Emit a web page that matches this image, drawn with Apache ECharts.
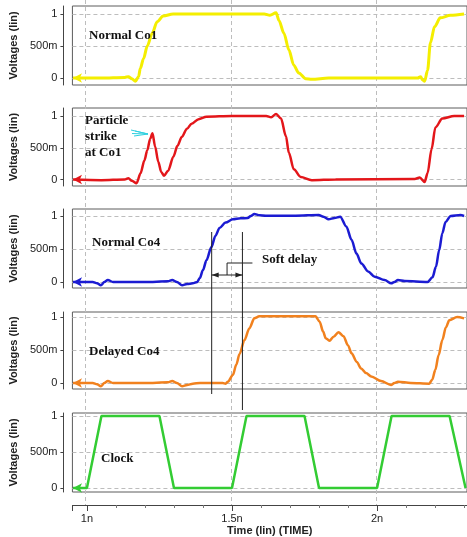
<!DOCTYPE html>
<html>
<head>
<meta charset="utf-8">
<script src="https://cdn.jsdelivr.net/npm/echarts@6/dist/echarts.min.js"></script>
<style>
  body { margin: 0; background: #fff; }
  #chart { width: 467px; height: 537px; }
</style>
</head>
<body>
<div id="chart"></div>
<script>
// time in ns, voltage in V
const normalCo1 = [[0.952,0],[1.05,0],[1.13,0.01],[1.143,0.02],[1.155,-0.01],[1.167,-0.05],[1.178,0.02],[1.184,0.15],[1.195,0.3],[1.208,0.5],[1.225,0.7],[1.242,0.88],[1.263,0.97],[1.297,1.0],[1.45,1.0],[1.611,1.0],[1.631,0.98],[1.652,1.02],[1.662,0.9],[1.679,0.7],[1.696,0.44],[1.713,0.2],[1.73,0.08],[1.754,-0.01],[1.775,-0.02],[1.833,0],[2.0,0],[2.14,0],[2.15,0.02],[2.157,-0.03],[2.164,-0.05],[2.174,0.12],[2.184,0.55],[2.198,0.8],[2.218,0.94],[2.253,0.98],[2.30,1.0]];
const strikeCo1 = [[0.952,0],[1.05,-0.01],[1.13,0],[1.143,0.02],[1.155,-0.02],[1.171,-0.06],[1.185,0.1],[1.198,0.3],[1.208,0.46],[1.218,0.64],[1.226,0.73],[1.235,0.52],[1.246,0.28],[1.256,0.12],[1.266,0.06],[1.28,0.14],[1.298,0.36],[1.312,0.53],[1.327,0.67],[1.345,0.8],[1.361,0.88],[1.385,0.95],[1.412,0.99],[1.5,1.0],[1.618,1.0],[1.635,0.98],[1.652,1.03],[1.669,0.96],[1.686,0.68],[1.696,0.42],[1.713,0.16],[1.737,0.04],[1.775,-0.01],[1.857,0],[2.13,0.01],[2.147,0.03],[2.164,-0.04],[2.174,0.1],[2.188,0.48],[2.201,0.82],[2.225,0.96],[2.266,1.0],[2.30,1.0]];
const normalCo4 = [[0.952,0],[1.02,0],[1.035,-0.02],[1.048,-0.05],[1.06,0],[1.072,0.03],[1.09,0],[1.2,0],[1.28,0.01],[1.294,0.03],[1.31,0],[1.328,-0.05],[1.345,-0.03],[1.365,-0.02],[1.38,0],[1.389,0.06],[1.4,0.18],[1.412,0.33],[1.429,0.53],[1.443,0.7],[1.457,0.82],[1.478,0.9],[1.503,0.95],[1.53,0.965],[1.554,0.97],[1.565,1.0],[1.577,1.03],[1.595,1.01],[1.617,1.005],[1.719,1.005],[1.799,1.015],[1.815,0.99],[1.833,0.95],[1.853,0.97],[1.873,0.99],[1.894,0.84],[1.912,0.64],[1.929,0.43],[1.946,0.28],[1.969,0.16],[1.992,0.08],[2.026,0.03],[2.049,-0.02],[2.06,0],[2.072,0.03],[2.095,0.015],[2.174,0],[2.191,0.07],[2.203,0.23],[2.214,0.48],[2.225,0.74],[2.236,0.91],[2.254,1.0],[2.287,1.015],[2.30,1.0]];
const delayedCo4 = [[0.952,0],[1.02,0],[1.035,-0.02],[1.048,-0.05],[1.06,0],[1.072,0.03],[1.09,0],[1.2,0],[1.28,0.01],[1.294,0.03],[1.31,0],[1.328,-0.05],[1.345,-0.03],[1.365,-0.01],[1.39,0],[1.468,0],[1.478,-0.01],[1.486,0.02],[1.503,0.12],[1.515,0.28],[1.526,0.44],[1.543,0.65],[1.56,0.83],[1.577,0.98],[1.594,1.01],[1.652,1.01],[1.788,1.01],[1.802,0.93],[1.814,0.78],[1.823,0.68],[1.836,0.64],[1.85,0.7],[1.867,0.77],[1.884,0.71],[1.9,0.57],[1.912,0.45],[1.93,0.32],[1.945,0.22],[1.962,0.15],[1.98,0.1],[2.014,0.03],[2.048,-0.03],[2.06,0],[2.072,0.02],[2.116,0],[2.18,-0.01],[2.19,0.05],[2.201,0.2],[2.212,0.42],[2.225,0.65],[2.237,0.84],[2.249,0.95],[2.276,1.0],[2.30,0.98]];
const clock = [[0.952,0],[1.0,0],[1.05,1],[1.25,1],[1.3,0],[1.5,0],[1.55,1],[1.75,1],[1.8,0],[2.0,0],[2.05,1],[2.25,1],[2.305,0]];

const panelNames = ['Normal Co1', 'Particle\nstrike\nat Co1', 'Normal Co4', 'Delayed Co4', 'Clock'];
const yTicks = [0, 0.5, 1];
const yTickLabels = ['0', '500m', '1'];
const xLabelTicks = [1, 1.5, 2];
const xEdgeTicks = [0.95, 1, 1.5, 2];
const xMinorTicks = [1.1, 1.2, 1.3, 1.4, 1.6, 1.7, 1.8, 1.9, 2.1, 2.2, 2.3];
const softDelay = [1.43, 1.536];

const XMIN = 0.95, XMAX = 2.31;
const panels = [
  {data: normalCo1, color: '#f4ee00', width: 3, top: 6, height: 79, min: -0.109, max: 1.125, label: [89, 36]},
  {data: strikeCo1, color: '#e3161a', width: 2.5, top: 108, height: 78, min: -0.102, max: 1.126, label: [85, 137]},
  {data: normalCo4, color: '#1b1bd2', width: 2.5, top: 209, height: 79, min: -0.091, max: 1.106, label: [92, 243]},
  {data: delayedCo4, color: '#f1811e', width: 2.5, top: 312, height: 77, min: -0.091, max: 1.076, label: [89, 352]},
  {data: clock, color: '#33cc33', width: 2.5, top: 413, height: 79, min: -0.056, max: 1.042, label: [101, 459]}
];

const axisColor = '#444';
const gridDash = {color: '#bdbdbd', type: [4, 3], width: 1};
const serif = 'bold 13px "Liberation Serif", "Times New Roman", serif';

// background grid only carries the vertical dashed lines
const grid = [{left: 71, right: -3, top: 0, bottom: 32, show: false}];
const xAxis = [{
  gridIndex: 0, type: 'value', min: XMIN, max: XMAX,
  axisLine: {show: false}, axisTick: {show: false, customValues: xLabelTicks},
  axisLabel: {show: false}, splitLine: {show: true, lineStyle: gridDash}
}];
const yAxis = [{gridIndex: 0, type: 'value', show: false}];
const series = [];

panels.forEach(function (p, i) {
  const g = i + 1;
  grid.push({left: 71, right: -3, top: p.top, height: p.height, show: true,
    borderColor: '#5c5c5c', borderWidth: 1});
  xAxis.push({gridIndex: g, type: 'value', min: XMIN, max: XMAX, show: false});
  yAxis.push({
    gridIndex: g, type: 'value', min: p.min, max: p.max, offset: 9,
    name: 'Voltages (lin)', nameLocation: 'middle', nameGap: 42,
    nameTextStyle: {fontWeight: 'bold', fontSize: 11, color: '#222', fontFamily: 'Liberation Sans'},
    axisLine: {show: true, lineStyle: {color: axisColor}},
    axisTick: {show: true, length: 3, customValues: yTicks, lineStyle: {color: axisColor}},
    axisLabel: {customValues: yTicks, margin: 6, fontSize: 11, color: '#222', fontFamily: 'Liberation Sans',
      formatter: function (v) { return yTickLabels[yTicks.indexOf(v)]; }},
    splitLine: {show: true, lineStyle: gridDash}
  });
  const data = p.data.map(function (d, k) {
    if (k === 0) return {value: d, symbol: 'arrow', symbolSize: [7, 9], symbolRotate: 90};
    return d;
  });
  series.push({
    type: 'line', xAxisIndex: g, yAxisIndex: g, data: data,
    symbol: 'none', showSymbol: true,
    smooth: i === 4 ? false : 0.3, smoothMonotone: 'x',
    lineStyle: {color: p.color, width: p.width}, itemStyle: {color: p.color},
    z: 3
  });
});

// time axis under the clock panel
xAxis.push({
  gridIndex: 5, type: 'value', min: XMIN, max: XMAX, position: 'bottom', offset: 13,
  name: 'Time (lin) (TIME)', nameLocation: 'middle', nameGap: 20,
  nameTextStyle: {fontWeight: 'bold', fontSize: 11, color: '#222', fontFamily: 'Liberation Sans'},
  axisLine: {show: true, lineStyle: {color: axisColor}},
  axisTick: {show: true, length: 6, customValues: xEdgeTicks, lineStyle: {color: axisColor}},
  axisLabel: {customValues: xLabelTicks, margin: 8, fontSize: 11, color: '#222', fontFamily: 'Liberation Sans',
    formatter: function (v) { return v + 'n'; }},
  splitLine: {show: false}
});
xAxis.push({
  gridIndex: 5, type: 'value', min: XMIN, max: XMAX, position: 'bottom', offset: 13,
  axisLine: {show: false},
  axisTick: {show: true, length: 3, customValues: xMinorTicks, lineStyle: {color: '#777'}},
  axisLabel: {show: false}, splitLine: {show: false}
});

const chart = echarts.init(document.getElementById('chart'));
chart.setOption({
  animation: false,
  backgroundColor: '#fff',
  grid: grid, xAxis: xAxis, yAxis: yAxis, series: series
});

// annotations
const xs = chart.convertToPixel({xAxisIndex: 3}, softDelay[0]);
const xe = chart.convertToPixel({xAxisIndex: 3}, softDelay[1]);
const xm = (xs + xe) / 2;
const ink = {stroke: '#222', lineWidth: 1};
const graphic = [];
panels.forEach(function (p) {
  graphic.push({type: 'text', x: p.label[0], y: p.label[1], z: 10,
    style: {text: panelNames[panels.indexOf(p)], font: serif, fill: '#111', verticalAlign: 'middle', lineHeight: 16}});
});
graphic.push(
  {type: 'line', z: 10, shape: {x1: xs, y1: 232, x2: xs, y2: 394}, style: ink},
  {type: 'line', z: 10, shape: {x1: xe, y1: 232, x2: xe, y2: 410}, style: ink},
  {type: 'line', z: 10, shape: {x1: xs, y1: 275, x2: xe, y2: 275}, style: ink},
  {type: 'polygon', z: 10, shape: {points: [[xs, 275], [xs + 7, 272.5], [xs + 7, 277.5]]}, style: {fill: '#222'}},
  {type: 'polygon', z: 10, shape: {points: [[xe, 275], [xe - 7, 272.5], [xe - 7, 277.5]]}, style: {fill: '#222'}},
  {type: 'polyline', z: 10, shape: {points: [[xm, 275], [xm, 263], [xe + 10, 263]]}, style: {stroke: '#222', lineWidth: 1, fill: null}},
  {type: 'text', x: 262, y: 260, z: 10, style: {text: 'Soft delay', font: serif, fill: '#111', verticalAlign: 'middle'}},
  {type: 'polyline', z: 10, shape: {points: [[131, 130], [148, 134], [132, 133.5]]}, style: {stroke: '#2fd0e0', lineWidth: 1, fill: null}},
  {type: 'polyline', z: 10, shape: {points: [[134, 136], [148, 134], [135, 131]]}, style: {stroke: '#2fd0e0', lineWidth: 1, fill: null}}
);
chart.setOption({graphic: graphic});

window.addEventListener('resize', function () { chart.resize(); });
</script>
</body>
</html>
